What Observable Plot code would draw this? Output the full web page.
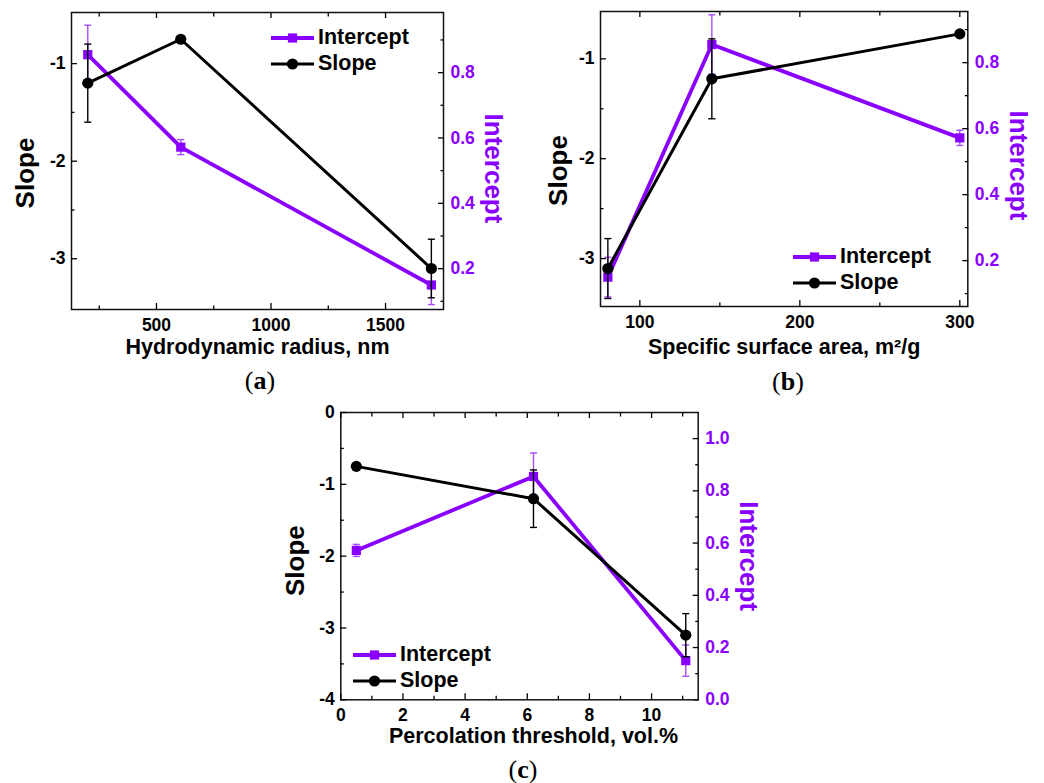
<!DOCTYPE html>
<html>
<head>
<meta charset="utf-8">
<script src="https://cdn.jsdelivr.net/npm/d3@7"></script>
<script src="https://cdn.jsdelivr.net/npm/@observablehq/plot@0.6"></script>
<style>
  html, body { margin: 0; padding: 0; background: #fff; }
  #fig { position: relative; width: 1044px; height: 783px; overflow: hidden; font-family: "Liberation Sans", Arial, sans-serif; }
  .panel { position: absolute; }
  .panel svg { position: absolute; left: 0; top: 0; overflow: visible; background: transparent; }
  .panel svg g[aria-label$="tick label"] text { font-size: 17.5px; font-weight: bold; }
  .caption { position: absolute; transform: translate(-50%, -50%); font-family: "Liberation Serif", "DejaVu Serif", serif; font-size: 26px; color: #000; white-space: nowrap; }
  .legend-text { position: absolute; white-space: nowrap; font-weight: bold; font-size: 21.5px; line-height: 1; color: #000; transform: translateY(-50%); }
</style>
</head>
<body>
<div id="fig"></div>
<script>
// Three filler grades: slope and intercept of the fitted dependence, with errors
const fillers = ["A", "B", "C"];
const hydroRadius = [200, 606, 1700];      // nm
const surfaceArea = [145, 300, 80];        // m²/g
const percolation = [6.2, 0.5, 11.1];      // vol.%
const slope = [-1.2, -0.75, -3.1];
const slopeErr = [0.4, 0.02, 0.3];
const intercept = [0.855, 0.572, 0.15];
const interceptErr = [0.09, 0.023, 0.06];

// Axis ticks
const radiusTicks = [500, 1000, 1500];
const radiusMinor = [250, 750, 1250];
const areaTicks = [100, 200, 300];
const areaMinor = [150, 250];
const percTicks = [0, 2, 4, 6, 8, 10];
const percMinor = [1, 3, 5, 7, 9, 11];
const slopeTicksAB = [-3, -2, -1];
const slopeMinorAB = [-2.5, -1.5];
const slopeTicksC = [-4, -3, -2, -1, 0];
const slopeMinorC = [-3.5, -2.5, -1.5, -0.5];
const interceptTicksAB = [0.2, 0.4, 0.6, 0.8];
const interceptMinorAB = [0.1, 0.3, 0.5, 0.7, 0.9];
const interceptTicksC = [0, 0.2, 0.4, 0.6, 0.8, 1.0];
const interceptMinorC = [0.1, 0.3, 0.5, 0.7, 0.9];

const PURPLE = "#8a00ff";
const PURPLE_ERR = "#a64dff";
const INK = "#000";
const FONT = "'Liberation Sans', Arial, sans-serif";

// horizontal cap drawn at the ends of each error bar
const cap = {draw(ctx, size) { const w = Math.sqrt(size) / 2; ctx.moveTo(-w, 0); ctx.lineTo(w, 0); }};

const panels = [
  {
    id: "a", left: 0, top: 0, width: 520, height: 400, margin: [12, 77, 91, 71],
    xValues: hydroRadius, xDomain: [129, 1753], xTicks: radiusTicks, xMinor: radiusMinor,
    slopeDomain: [-3.52, -0.476], slopeTicks: slopeTicksAB, slopeMinor: slopeMinorAB,
    interceptDomain: [0.075, 0.984], interceptTicks: interceptTicksAB, interceptMinor: interceptMinorAB,
    xTitle: "Hydrodynamic radius, nm", xTitleDx: 0, xTitleDy: 38,
    slopeDx: -46, slopeDy: 12, interceptDx: 50, interceptDy: 7.5,
    legend: {x: 271, y: 38}, caption: {x: 260, y: 381}
  },
  {
    id: "b", left: 520, top: 0, width: 524, height: 400, margin: [11, 76.7, 94, 80],
    xValues: surfaceArea, xDomain: [75.4, 305], xTicks: areaTicks, xMinor: areaMinor,
    slopeDomain: [-3.48, -0.526], slopeTicks: slopeTicksAB, slopeMinor: slopeMinorAB,
    interceptDomain: [0.061, 0.955], interceptTicks: interceptTicksAB, interceptMinor: interceptMinorAB,
    xTitle: "Specific surface area, m²/g", xTitleDx: 0, xTitleDy: 41,
    slopeDx: -42, slopeDy: 11.5, interceptDx: 51, interceptDy: 6.5,
    legend: {x: 793, y: 257.3}, caption: {x: 788, y: 382}
  },
  {
    id: "c", left: 270, top: 390, width: 520, height: 393, margin: [22, 92.3, 83.7, 70.3],
    xValues: percolation, xDomain: [0, 11.5], xTicks: percTicks, xMinor: percMinor,
    slopeDomain: [-4, 0], slopeTicks: slopeTicksC, slopeMinor: slopeMinorC,
    interceptDomain: [0, 1.1], interceptTicks: interceptTicksC, interceptMinor: interceptMinorC,
    xTitle: "Percolation threshold, vol.%", xTitleDx: 14, xTitleDy: 36,
    slopeDx: -45, slopeDy: 4.5, interceptDx: 50, interceptDy: 0,
    legend: {x: 353, y: 655}, caption: {x: 523, y: 770}
  }
];

const fig = document.getElementById("fig");
const num = d => String(d);
const blank = () => "";

function drawPanel(p) {
  const rows = p.xValues.map((x, i) => ({
    name: fillers[i], x, s: slope[i], se: slopeErr[i], b: intercept[i], be: interceptErr[i]
  })).sort((u, v) => u.x - v.x);

  const [mt, mr, mb, ml] = p.margin;
  const common = {
    width: p.width, height: p.height,
    marginTop: mt, marginRight: mr, marginBottom: mb, marginLeft: ml,
    style: {fontFamily: FONT, fontSize: "17.5px", fontWeight: "bold", background: "transparent", overflow: "visible"}
  };
  const title = {textAnchor: "middle", lineAnchor: "middle", fontWeight: "bold", text: d => d};

  // Intercept layer (right axis), drawn underneath
  const back = Plot.plot({
    ...common,
    x: {domain: p.xDomain, axis: null},
    y: {domain: p.interceptDomain},
    marks: [
      Plot.axisY(p.interceptTicks, {anchor: "right", tickSize: -6, tickPadding: 13, tickFormat: d3.format(".1f"),
        fill: PURPLE, stroke: INK, strokeWidth: 1.3, label: null}),
      Plot.axisY(p.interceptMinor, {anchor: "right", tickSize: -3.5, tickFormat: blank, stroke: INK, strokeWidth: 1.3, label: null}),
      Plot.text(["Intercept"], {...title, frameAnchor: "right", dx: p.interceptDx, dy: p.interceptDy, rotate: 90,
        fill: PURPLE, fontSize: 26}),
      Plot.ruleX(rows, {x: "x", y1: d => d.b - d.be, y2: d => d.b + d.be, stroke: PURPLE_ERR, strokeWidth: 1.4}),
      Plot.dot(rows, {x: "x", y: d => d.b - d.be, symbol: cap, r: 4, fill: "none", stroke: PURPLE_ERR, strokeWidth: 1.4}),
      Plot.dot(rows, {x: "x", y: d => d.b + d.be, symbol: cap, r: 4, fill: "none", stroke: PURPLE_ERR, strokeWidth: 1.4}),
      Plot.line(rows, {x: "x", y: "b", stroke: PURPLE, strokeWidth: 3.8}),
      Plot.dot(rows, {x: "x", y: "b", symbol: "square", r: 5.2, fill: PURPLE, stroke: "none"})
    ]
  });

  // Slope layer (left axis, shared x axis and frame), drawn on top
  const front = Plot.plot({
    ...common,
    x: {domain: p.xDomain},
    y: {domain: p.slopeDomain},
    marks: [
      Plot.frame({stroke: "#111", strokeWidth: 1.5}),
      Plot.axisX(p.xTicks, {anchor: "bottom", tickSize: -6, tickPadding: 15, tickFormat: num,
        stroke: INK, fill: INK, strokeWidth: 1.3, label: null}),
      Plot.axisX(p.xMinor, {anchor: "bottom", tickSize: -3.5, tickFormat: blank, stroke: INK, strokeWidth: 1.3, label: null}),
      Plot.axisX(p.xTicks, {anchor: "top", tickSize: -5, tickFormat: blank, stroke: INK, strokeWidth: 1.3, label: null}),
      Plot.axisX(p.xMinor, {anchor: "top", tickSize: -3.5, tickFormat: blank, stroke: INK, strokeWidth: 1.3, label: null}),
      Plot.axisY(p.slopeTicks, {anchor: "left", tickSize: -6, tickPadding: 12, tickFormat: num,
        stroke: INK, fill: INK, strokeWidth: 1.3, label: null}),
      Plot.axisY(p.slopeMinor, {anchor: "left", tickSize: -3.5, tickFormat: blank, stroke: INK, strokeWidth: 1.3, label: null}),
      Plot.text([p.xTitle], {...title, frameAnchor: "bottom", dx: p.xTitleDx, dy: p.xTitleDy, fill: INK, fontSize: 21.5}),
      Plot.text(["Slope"], {...title, frameAnchor: "left", dx: p.slopeDx, dy: p.slopeDy, rotate: -90, fill: INK, fontSize: 26}),
      Plot.ruleX(rows, {x: "x", y1: d => d.s - d.se, y2: d => d.s + d.se, stroke: INK, strokeWidth: 1.4}),
      Plot.dot(rows, {x: "x", y: d => d.s - d.se, symbol: cap, r: 4, fill: "none", stroke: INK, strokeWidth: 1.4}),
      Plot.dot(rows, {x: "x", y: d => d.s + d.se, symbol: cap, r: 4, fill: "none", stroke: INK, strokeWidth: 1.4}),
      Plot.line(rows, {x: "x", y: "s", stroke: INK, strokeWidth: 3}),
      Plot.dot(rows, {x: "x", y: "s", symbol: "circle", r: 5.6, fill: INK, stroke: "none"})
    ]
  });

  const box = document.createElement("div");
  box.className = "panel";
  box.style.left = p.left + "px";
  box.style.top = p.top + "px";
  box.style.width = p.width + "px";
  box.style.height = p.height + "px";
  box.appendChild(back);
  box.appendChild(front);
  fig.appendChild(box);

  drawLegend(p.legend);

  const capDiv = document.createElement("div");
  capDiv.className = "caption";
  capDiv.style.left = p.caption.x + "px";
  capDiv.style.top = p.caption.y + "px";
  capDiv.innerHTML = "(<b>" + p.id + "</b>)";
  fig.appendChild(capDiv);
}

// Legend: line sample with its marker, followed by the series name
function drawLegend({x, y}) {
  const entries = [
    {label: "Intercept", color: PURPLE, width: 3.8, marker: "square"},
    {label: "Slope", color: INK, width: 3, marker: "circle"}
  ];
  const ns = "http://www.w3.org/2000/svg";
  entries.forEach((e, i) => {
    const cy = y + i * 26;
    const svg = document.createElementNS(ns, "svg");
    svg.setAttribute("width", 46);
    svg.setAttribute("height", 16);
    svg.style.position = "absolute";
    svg.style.left = x + "px";
    svg.style.top = (cy - 8) + "px";
    const ln = document.createElementNS(ns, "line");
    ln.setAttribute("x1", 0); ln.setAttribute("x2", 43);
    ln.setAttribute("y1", 8); ln.setAttribute("y2", 8);
    ln.setAttribute("stroke", e.color); ln.setAttribute("stroke-width", e.width);
    svg.appendChild(ln);
    let m;
    if (e.marker === "square") {
      m = document.createElementNS(ns, "rect");
      m.setAttribute("x", 21.5 - 4.6); m.setAttribute("y", 8 - 4.6);
      m.setAttribute("width", 9.2); m.setAttribute("height", 9.2);
    } else {
      m = document.createElementNS(ns, "circle");
      m.setAttribute("cx", 21.5); m.setAttribute("cy", 8); m.setAttribute("r", 5.6);
    }
    m.setAttribute("fill", e.color);
    svg.appendChild(m);
    fig.appendChild(svg);

    const t = document.createElement("div");
    t.className = "legend-text";
    t.style.left = (x + 47) + "px";
    t.style.top = cy + "px";
    t.textContent = e.label;
    fig.appendChild(t);
  });
}

panels.forEach(drawPanel);
</script>
</body>
</html>
